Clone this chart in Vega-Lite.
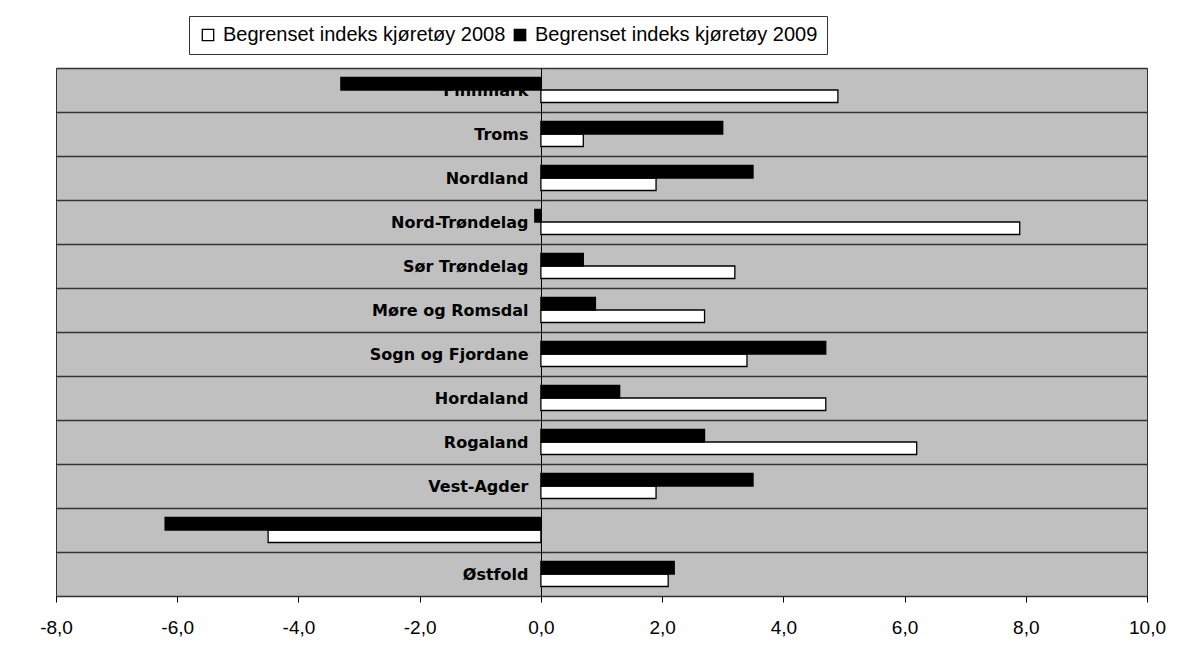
{
  "$schema": "https://vega.github.io/schema/vega-lite/v6.json",
  "autosize": {"type": "none"},
  "padding": {"left": 56, "top": 68, "right": 37, "bottom": 61},
  "width": 1091,
  "height": 528,
  "background": "white",
  "data": {
    "values": [
      {"region": "Finnmark", "serie": "Begrenset indeks kjøretøy 2008", "value": 4.9},
      {"region": "Finnmark", "serie": "Begrenset indeks kjøretøy 2009", "value": -3.3},
      {"region": "Troms", "serie": "Begrenset indeks kjøretøy 2008", "value": 0.7},
      {"region": "Troms", "serie": "Begrenset indeks kjøretøy 2009", "value": 3.0},
      {"region": "Nordland", "serie": "Begrenset indeks kjøretøy 2008", "value": 1.9},
      {"region": "Nordland", "serie": "Begrenset indeks kjøretøy 2009", "value": 3.5},
      {"region": "Nord-Trøndelag", "serie": "Begrenset indeks kjøretøy 2008", "value": 7.9},
      {"region": "Nord-Trøndelag", "serie": "Begrenset indeks kjøretøy 2009", "value": -0.1},
      {"region": "Sør Trøndelag", "serie": "Begrenset indeks kjøretøy 2008", "value": 3.2},
      {"region": "Sør Trøndelag", "serie": "Begrenset indeks kjøretøy 2009", "value": 0.7},
      {"region": "Møre og Romsdal", "serie": "Begrenset indeks kjøretøy 2008", "value": 2.7},
      {"region": "Møre og Romsdal", "serie": "Begrenset indeks kjøretøy 2009", "value": 0.9},
      {"region": "Sogn og Fjordane", "serie": "Begrenset indeks kjøretøy 2008", "value": 3.4},
      {"region": "Sogn og Fjordane", "serie": "Begrenset indeks kjøretøy 2009", "value": 4.7},
      {"region": "Hordaland", "serie": "Begrenset indeks kjøretøy 2008", "value": 4.7},
      {"region": "Hordaland", "serie": "Begrenset indeks kjøretøy 2009", "value": 1.3},
      {"region": "Rogaland", "serie": "Begrenset indeks kjøretøy 2008", "value": 6.2},
      {"region": "Rogaland", "serie": "Begrenset indeks kjøretøy 2009", "value": 2.7},
      {"region": "Vest-Agder", "serie": "Begrenset indeks kjøretøy 2008", "value": 1.9},
      {"region": "Vest-Agder", "serie": "Begrenset indeks kjøretøy 2009", "value": 3.5},
      {"region": "Buskerud", "serie": "Begrenset indeks kjøretøy 2008", "value": -4.5},
      {"region": "Buskerud", "serie": "Begrenset indeks kjøretøy 2009", "value": -6.2},
      {"region": "Østfold", "serie": "Begrenset indeks kjøretøy 2008", "value": 2.1},
      {"region": "Østfold", "serie": "Begrenset indeks kjøretøy 2009", "value": 2.2}
    ]
  },
  "mark": {"type": "bar", "stroke": "black", "strokeWidth": 1.3},
  "encoding": {
    "y": {
      "field": "region",
      "type": "nominal",
      "sort": ["Finnmark", "Troms", "Nordland", "Nord-Trøndelag", "Sør Trøndelag", "Møre og Romsdal", "Sogn og Fjordane", "Hordaland", "Rogaland", "Vest-Agder", "Buskerud", "Østfold"],
      "scale": {"paddingInner": 0, "paddingOuter": 0},
      "axis": {
        "title": null,
        "offset": -485,
        "tickBand": "extent",
        "grid": true,
        "gridColor": "#333333",
        "gridWidth": 1.3,
        "gridOpacity": 1,
        "domainColor": "black",
        "domainWidth": 1,
        "tickColor": "#333333",
        "tickSize": -6,
        "labelPadding": 19,
        "labelFont": "DejaVu Sans",
        "labelFontWeight": "bold",
        "labelFontSize": 16,
        "labelColor": "black",
        "labelLimit": 400
      }
    },
    "yOffset": {
      "field": "serie",
      "type": "nominal",
      "sort": ["Begrenset indeks kjøretøy 2009", "Begrenset indeks kjøretøy 2008"],
      "scale": {"paddingInner": 0, "paddingOuter": 0.76}
    },
    "x": {
      "field": "value",
      "type": "quantitative",
      "scale": {"domain": [-8, 10], "nice": false, "zero": false},
      "axis": {
        "title": null,
        "values": [-8, -6, -4, -2, 0, 2, 4, 6, 8, 10],
        "format": ".1f",
        "grid": false,
        "domainColor": "#333333",
        "tickColor": "black",
        "tickSize": 6,
        "labelPadding": 16,
        "labelFont": "Liberation Sans",
        "labelFontSize": 19,
        "labelColor": "black",
        "labelFlush": false
      }
    },
    "fill": {
      "field": "serie",
      "type": "nominal",
      "scale": {"domain": ["Begrenset indeks kjøretøy 2008", "Begrenset indeks kjøretøy 2009"], "range": ["white", "black"]},
      "legend": {
        "title": null,
        "orient": "none",
        "legendX": 133,
        "legendY": -52,
        "direction": "horizontal",
        "symbolType": "square",
        "symbolSize": 130,
        "symbolStrokeColor": "black",
        "symbolStrokeWidth": 1.3,
        "labelFont": "Liberation Sans",
        "labelFontSize": 20,
        "labelColor": "black",
        "labelOffset": 5,
        "labelLimit": 400,
        "columnPadding": 4,
        "padding": 9,
        "strokeColor": "#333333",
        "fillColor": "white"
      }
    }
  },
  "config": {
    "locale": {
      "number": {"decimal": ",", "thousands": " ", "grouping": [3], "currency": ["", " kr"], "minus": "-"}
    },
    "view": {"fill": "#C0C0C0", "stroke": "#333333", "strokeWidth": 1}
  }
}
